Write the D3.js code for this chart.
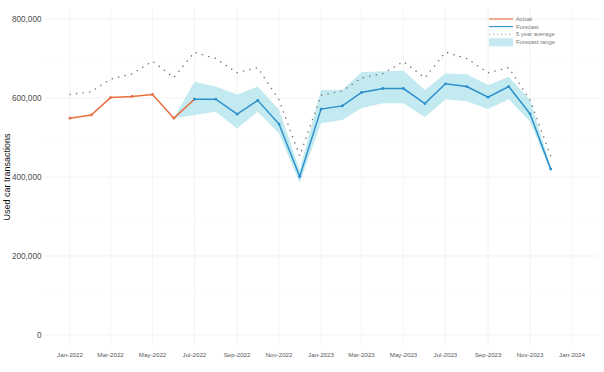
<!DOCTYPE html>
<html>
<head>
<meta charset="utf-8">
<script src="https://cdn.jsdelivr.net/npm/d3@7"></script>
<style>
  body { margin: 0; background: #fff; }
  text { font-family: "Liberation Sans", Arial, sans-serif; }
</style>
</head>
<body>
<svg id="chart" width="604" height="372"></svg>
<script>
//
// DATA
//
var actualMonths = ["2022-01","2022-02","2022-03","2022-04","2022-05","2022-06","2022-07"];
var actualValues = [549000, 557000, 601000, 604000, 609000, 549000, 597000];

var forecastMonths = ["2022-07","2022-08","2022-09","2022-10","2022-11","2022-12",
  "2023-01","2023-02","2023-03","2023-04","2023-05","2023-06",
  "2023-07","2023-08","2023-09","2023-10","2023-11","2023-12"];
var forecastValues = [597000, 597000, 559000, 594000, 534000, 401000,
  572000, 580000, 614000, 624000, 624000, 586000,
  636000, 629000, 602000, 629000, 560000, 420000];

var rangeMonths = ["2022-06"].concat(forecastMonths);
var rangeLow = [549000, 557000, 565000, 523000, 565000, 510000, 385000,
  536000, 544000, 575000, 587000, 587000, 551000,
  597000, 592000, 572000, 597000, 540000, 413000];
var rangeHigh = [549000, 641000, 629000, 609000, 629000, 570000, 418000,
  620000, 620000, 665000, 668000, 669000, 620000,
  662000, 660000, 633000, 654000, 595000, 426000];

var avgMonths = actualMonths.slice(0, 6).concat(forecastMonths);
var avgValues = [609000, 616000, 648000, 661000, 693000, 652000,
  716000, 700000, 664000, 677000, 595000, 453000,
  607000, 618000, 651000, 662000, 692000, 651000,
  716000, 700000, 664000, 677000, 595000, 453000];

var yTicks = [0, 200000, 400000, 600000, 800000];
var legendLabels = ["Actual", "Forecast", "5 year average", "Forecast range"];

//
// SETUP
//
var parse = d3.timeParse("%Y-%m");
var svg = d3.select("#chart");

var plotLeft = 45, plotRight = 598, plotTop = 8, plotBottom = 346;

var x = d3.scaleTime()
  .domain([parse("2022-01"), parse("2024-01")])
  .range([70, 572]);
var y = d3.scaleLinear()
  .domain([0, 800000])
  .range([335, 19]);

var orange = "#e8703f", blue = "#2b8fcb", band = "#c2eaf0", dotGrey = "#7a7a7a";

// grid
var xTicks = d3.timeMonth.every(2).range(parse("2022-01"), parse("2024-02"));
svg.append("g").selectAll("line")
  .data(d3.range(100000, 800001, 200000))
  .join("line")
  .attr("x1", plotLeft).attr("x2", plotRight)
  .attr("y1", d => y(d)).attr("y2", d => y(d))
  .attr("stroke", "#f6f6f6").attr("stroke-width", 0.5);
svg.append("g").selectAll("line")
  .data(yTicks)
  .join("line")
  .attr("x1", plotLeft).attr("x2", plotRight)
  .attr("y1", d => y(d)).attr("y2", d => y(d))
  .attr("stroke", "#ececec").attr("stroke-width", 0.7);
svg.append("g").selectAll("line")
  .data(xTicks)
  .join("line")
  .attr("x1", d => x(d)).attr("x2", d => x(d))
  .attr("y1", plotTop).attr("y2", plotBottom)
  .attr("stroke", "#efefef").attr("stroke-width", 0.7);

// axis labels
var fmt = d3.format(",");
svg.append("g").selectAll("text")
  .data(yTicks)
  .join("text")
  .attr("x", 41.5).attr("y", d => y(d) + 3)
  .attr("text-anchor", "end")
  .attr("font-size", 8.2).attr("fill", "#4d4d4d")
  .text(d => fmt(d));

var monthFmt = d3.timeFormat("%b-%Y");
svg.append("g").selectAll("text")
  .data(xTicks)
  .join("text")
  .attr("x", d => x(d)).attr("y", 357)
  .attr("text-anchor", "middle")
  .attr("font-size", 6.2).attr("fill", "#595959")
  .text(d => monthFmt(d));

svg.append("text")
  .attr("transform", "translate(10," + 177 + ") rotate(-90)")
  .attr("text-anchor", "middle")
  .attr("font-size", 9).attr("fill", "#111")
  .text("Used car transactions");

// forecast range
var rangeData = rangeMonths.map((m, i) => ({ d: parse(m), lo: rangeLow[i], hi: rangeHigh[i] }));
svg.append("path")
  .datum(rangeData)
  .attr("fill", band)
  .attr("d", d3.area().x(d => x(d.d)).y0(d => y(d.lo)).y1(d => y(d.hi)));

// 5 year average
var avgData = avgMonths.map((m, i) => ({ d: parse(m), v: avgValues[i] }));
svg.append("path")
  .datum(avgData)
  .attr("fill", "none")
  .attr("stroke", dotGrey)
  .attr("stroke-width", 1.5)
  .attr("stroke-linecap", "round")
  .attr("stroke-dasharray", "0.1 6.5")
  .attr("d", d3.line().x(d => x(d.d)).y(d => y(d.v)));

// lines with small markers
function drawSeries(months, values, colour) {
  var data = months.map((m, i) => ({ d: parse(m), v: values[i] }));
  svg.append("path")
    .datum(data)
    .attr("fill", "none")
    .attr("stroke", colour)
    .attr("stroke-width", 1.5)
    .attr("d", d3.line().x(d => x(d.d)).y(d => y(d.v)));
  svg.append("g").selectAll("circle")
    .data(data)
    .join("circle")
    .attr("cx", d => x(d.d)).attr("cy", d => y(d.v))
    .attr("r", 1.4)
    .attr("fill", colour);
}
drawSeries(actualMonths, actualValues, orange);
drawSeries(forecastMonths, forecastValues, blue);

// legend
var legend = svg.append("g").attr("transform", "translate(489,19)");
legendLabels.forEach(function (label, i) {
  var row = legend.append("g").attr("transform", "translate(0," + (i * 7.6) + ")");
  if (i === 3) {
    row.append("rect").attr("x", 0).attr("y", -3.5).attr("width", 24).attr("height", 8)
      .attr("fill", band);
  } else {
    row.append("line").attr("x1", 0).attr("x2", 24).attr("y1", 0).attr("y2", 0)
      .attr("stroke", i === 0 ? orange : i === 1 ? blue : "#999")
      .attr("stroke-width", 1.1)
      .attr("stroke-dasharray", i === 2 ? "1.2 2.8" : null);
  }
  row.append("text")
    .attr("x", 27).attr("y", 2.2)
    .attr("font-size", 5.8).attr("fill", "#777")
    .text(label);
});
</script>
</body>
</html>
